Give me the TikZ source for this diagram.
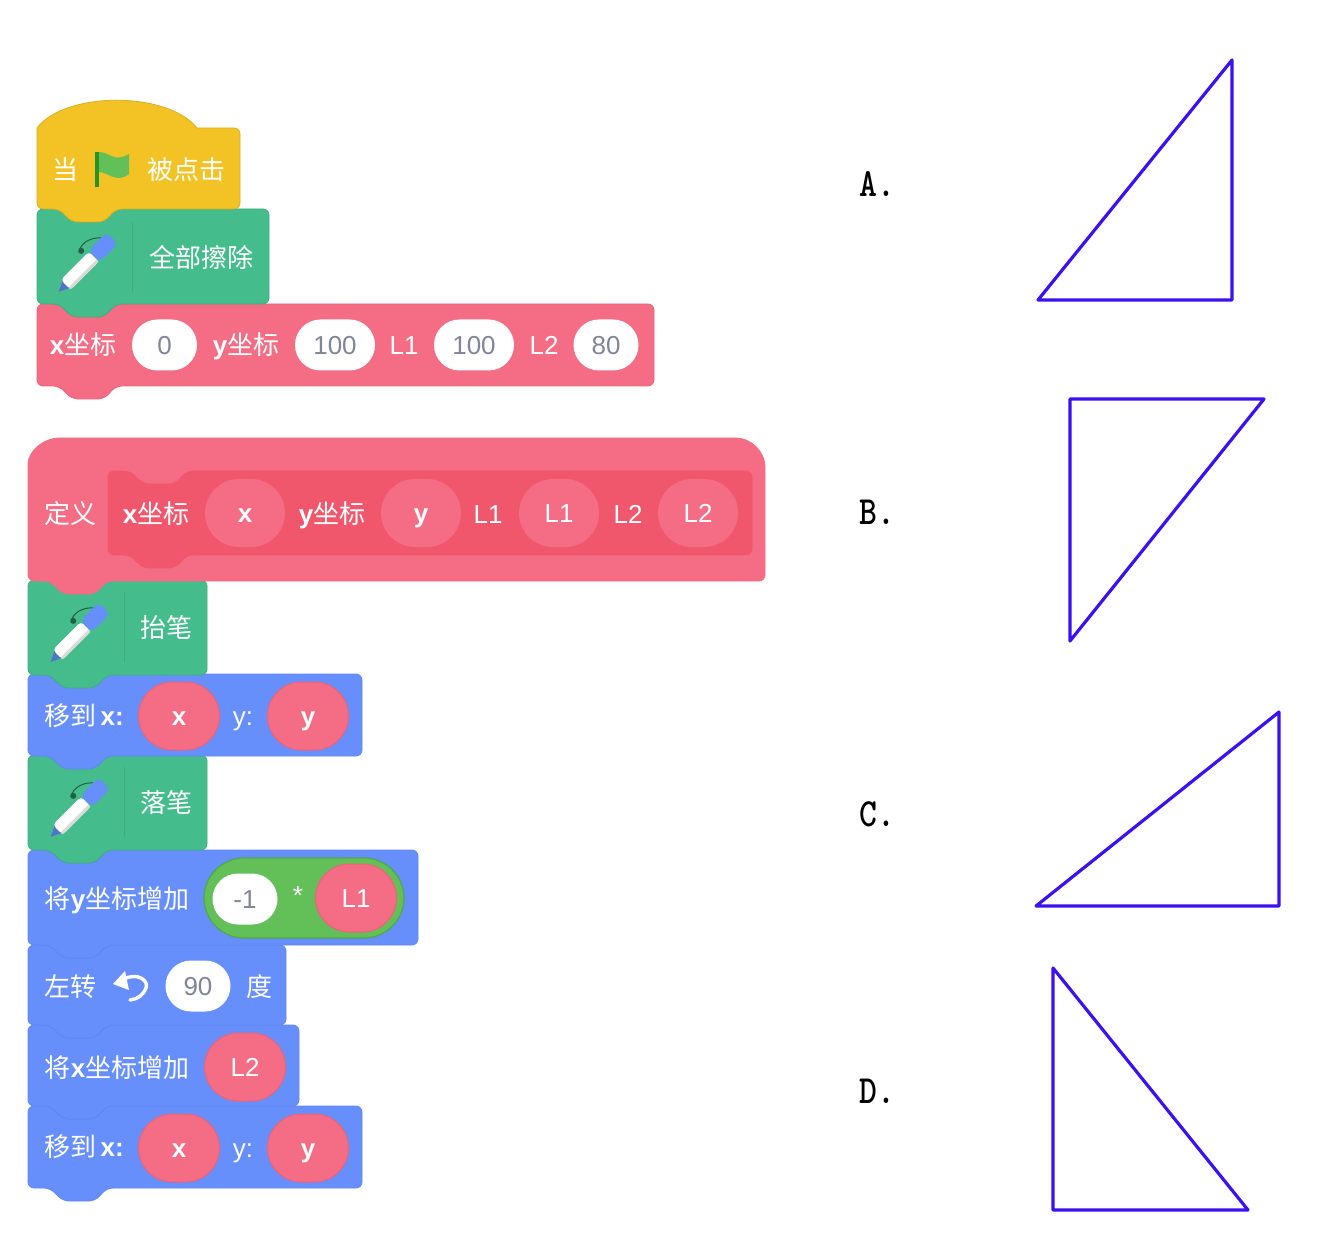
\documentclass[tikz,border=0pt]{standalone}
\usepackage{fontspec}
\setmainfont{Liberation Sans}
\newfontfamily\cjk{Noto Sans CJK SC}
\usetikzlibrary{shapes.misc}
\definecolor{hatyellow}{HTML}{F3C325}
\definecolor{pengreen}{HTML}{45BC8C}
\definecolor{pengreenline}{HTML}{3DAD80}
\definecolor{mypink}{HTML}{F46D84}
\definecolor{mypinkline}{HTML}{EE6279}
\definecolor{innerpink}{HTML}{F1576C}
\definecolor{motionblue}{HTML}{668FFB}
\definecolor{motionline}{HTML}{5F87F0}
\definecolor{opgreen}{HTML}{63C058}
\definecolor{opgreenline}{HTML}{4FA847}
\definecolor{numgrey}{HTML}{80859A}
\definecolor{triblue}{HTML}{3C10F0}
\tikzset{
  lbl/.style={text=white,font=\fontsize{13}{15}\selectfont,inner sep=0pt,text height=9.3pt,text depth=0pt},
  numlbl/.style={rounded rectangle,fill=white,text=numgrey,font=\fontsize{13}{15}\selectfont,
    minimum width=32.5pt,minimum height=25.5pt,inner sep=0pt,text height=9.3pt,text depth=0pt},
  argpill/.style={rounded rectangle,fill=mypink,draw=mypinkline,line width=0.5pt,text=white,
    font=\fontsize{13}{15}\selectfont,minimum width=40.5pt,minimum height=34pt,inner sep=0pt,
    text height=9.3pt,text depth=0pt},
  ghostpill/.style={rounded rectangle,fill=mypink,text=white,
    font=\fontsize{13}{15}\selectfont,minimum width=40pt,minimum height=34pt,inner sep=0pt,
    text height=9.3pt,text depth=0pt},
  optlbl/.style={font=\ttfamily\bfseries\fontsize{20}{22}\selectfont,inner sep=0pt,xscale=0.85},
  triline/.style={draw=triblue,line width=1.6pt,line join=round}
}
% stack block: x0,y0,x1,y1,fill,line
\newcommand{\stackblock}[6]{
  \draw[fill=#5,draw=#6,line width=0.4pt,rounded corners=3pt]
    (#1,#4) -- (#1,#2) -- (#1+22,#2) -- (#1+35,#2+13) -- (#1+67,#2+13) -- (#1+79,#2)
    -- (#3,#2) -- (#3,#4) -- (#1+79,#4) -- (#1+67,#4+13) -- (#1+35,#4+13) -- (#1+22,#4) -- cycle;
}
% pen icon, centred on x,y
\newcommand{\penicon}[2]{
  \begin{scope}[shift={(#1,#2)},rotate=45]
    \draw[pengreenline!55!black,line width=0.5pt] (5,-14) .. controls (14,-20) and (26,-14) .. (31,-7);
    \fill[pengreenline!55!black] (7,-13) circle (3);
    \fill[motionblue!80!black] (-38,0) -- (-25,-6) -- (-25,6) -- cycle;
    \fill[white,rounded corners=2pt] (-28,-7) rectangle (12,7);
    \fill[black!15,rounded corners=1pt] (-28,4) rectangle (12,7);
    \fill[motionblue,rounded corners=3pt] (12,-8) rectangle (38,8);
  \end{scope}
}
\begin{document}
\begin{tikzpicture}[x=0.5pt,y=-0.5pt]
\useasboundingbox (0,0) rectangle (1342,1234);
%%Second stack, bottom up so that each bump lies over the next notch
\stackblock{28}{1106}{362}{1188}{motionblue}{motionline}
\stackblock{28}{1025}{299}{1106}{motionblue}{motionline}
\stackblock{28}{945}{286}{1025}{motionblue}{motionline}
\stackblock{28}{850}{418}{945}{motionblue}{motionline}
\stackblock{28}{755}{207}{850}{pengreen}{pengreenline}
\stackblock{28}{674}{362}{756}{motionblue}{motionline}
\stackblock{28}{580}{207}{675}{pengreen}{pengreenline}
%%Define hat
\draw[fill=mypink,draw=mypink,rounded corners=3pt] (28,581) -- (28,470)
  [rounded corners=0pt] arc (180:270:32) -- (735,438) arc (270:360:30)
  [rounded corners=3pt] -- (765,581) -- (107,581) -- (95,594) -- (63,594) -- (50,581) -- cycle;
\stackblock{108}{471}{752}{555}{innerpink}{innerpink}
%%First stack
\stackblock{37}{304}{654}{386}{mypink}{mypinkline}
\stackblock{37}{209}{269}{304}{pengreen}{pengreenline}
\draw[fill=hatyellow,draw=hatyellow!90!black,line width=0.4pt,rounded corners=3pt] (37,209)
  [rounded corners=0pt] -- (37,128) .. controls (65,91) and (168,91) .. (197,128)
  [rounded corners=3pt] -- (240,128) -- (240,209) -- (116,209) -- (104,222) -- (72,222) -- (59,209) -- cycle;
%%Hat contents
\node[lbl] (dang) at (65,170) {\cjk 当};
\fill[green!45!black!60!opgreen] (95,152) rectangle (99,187);
\fill[opgreen] (99,152) .. controls (110,152) and (114,163) .. (129,154) -- (129,174)
  .. controls (116,184) and (108,172) .. (99,172) -- cycle;
\node[lbl] (clicked) at (186,170) {\cjk 被点击};
%%Pen blocks
\penicon{85.5}{265}
\draw[pengreenline] (132,222) -- (132,292);
\node[lbl] (erase) at (201,258) {\cjk 全部擦除};
\penicon{77.5}{635}
\draw[pengreenline] (124,592) -- (124,662);
\node[lbl] (penup) at (166,628) {\cjk 抬笔};
\penicon{77.5}{810}
\draw[pengreenline] (124,767) -- (124,837);
\node[lbl] (pendown) at (166,803) {\cjk 落笔};
%%Call block
\node[lbl] (callx) at (83,345) {\textbf{x}\cjk 坐标};
\node[numlbl] (callxv) at (164.5,345) {0};
\node[lbl] (cally) at (246,345) {\textbf{y}\cjk 坐标};
\node[numlbl,minimum width=40pt] (callyv) at (335,345) {100};
\node[lbl] (calla) at (404,345) {L1};
\node[numlbl,minimum width=40pt] (callav) at (474,345) {100};
\node[lbl] (callb) at (544,345) {L2};
\node[numlbl] (callbv) at (606,345) {80};
%%Define block
\node[lbl] (defword) at (70,514) {\cjk 定义};
\node[lbl] (defx) at (156,514) {\textbf{x}\cjk 坐标};
\node[ghostpill] (defxv) at (245,513) {\textbf{x}};
\node[lbl] (defy) at (332,514) {\textbf{y}\cjk 坐标};
\node[ghostpill] (defyv) at (421,513) {\textbf{y}};
\node[lbl] (defa) at (488,514) {L1};
\node[ghostpill] (defav) at (559,513) {L1};
\node[lbl] (defb) at (628,514) {L2};
\node[ghostpill] (defbv) at (698,513) {L2};
%%Move block one
\node[lbl] (moveone) at (84,716) {\cjk 移到\,\rmfamily\bfseries x:};
\node[argpill] (moveonex) at (179,716) {\textbf{x}};
\node[lbl] (moveoney) at (243,716) {y:};
\node[argpill] (moveoneyv) at (308,716) {\textbf{y}};
%%Change y
\node[lbl] (changey) at (117,899) {\cjk 将{\rmfamily\bfseries y}坐标增加};
\node[rounded rectangle,fill=opgreen,draw=opgreenline,line width=0.6pt,minimum width=100pt,minimum height=40pt,inner sep=0pt] (product) at (304,898) {};
\node[numlbl] (minusone) at (245,899) {-1};
\node[lbl] (times) at (298,895) {*};
\node[argpill] (timesl) at (356,898) {L1};
%%Turn
\node[lbl] (turn) at (70,987) {\cjk 左转};
\draw[white,line width=1.7pt,line cap=round] (124,979) .. controls (138,972) and (149,981) .. (146,988) .. controls (143,996) and (137,999) .. (130,1000);
\fill[white] (113,984) -- (125,971) -- (129,990) -- cycle;
\node[numlbl] (turnv) at (198,986) {90};
\node[lbl] (degree) at (259,987) {\cjk 度};
%%Change x
\node[lbl] (changex) at (117,1068) {\cjk 将{\rmfamily\bfseries x}坐标增加};
\node[argpill] (changel) at (245,1067) {L2};
%%Move block two
\node[lbl] (movetwo) at (84,1147) {\cjk 移到\,\rmfamily\bfseries x:};
\node[argpill] (movetwox) at (179,1148) {\textbf{x}};
\node[lbl] (movetwoy) at (243,1148) {y:};
\node[argpill] (movetwoyv) at (308,1148) {\textbf{y}};
%%Options
\node[optlbl] (opta) at (877,184) {A.};
\node[optlbl] (optb) at (877,512) {B.};
\node[optlbl] (optc) at (877,814) {C.};
\node[optlbl] (optd) at (877,1091) {D.};
%%Triangles
\draw[triline] (1232,60) -- (1038,300) -- (1232,300) -- cycle;
\draw[triline] (1070,399) -- (1264,399) -- (1070,641) -- cycle;
\draw[triline] (1279,712) -- (1036,906) -- (1279,906) -- cycle;
\draw[triline] (1053,968) -- (1248,1210) -- (1053,1210) -- cycle;
\end{tikzpicture}
\end{document}
